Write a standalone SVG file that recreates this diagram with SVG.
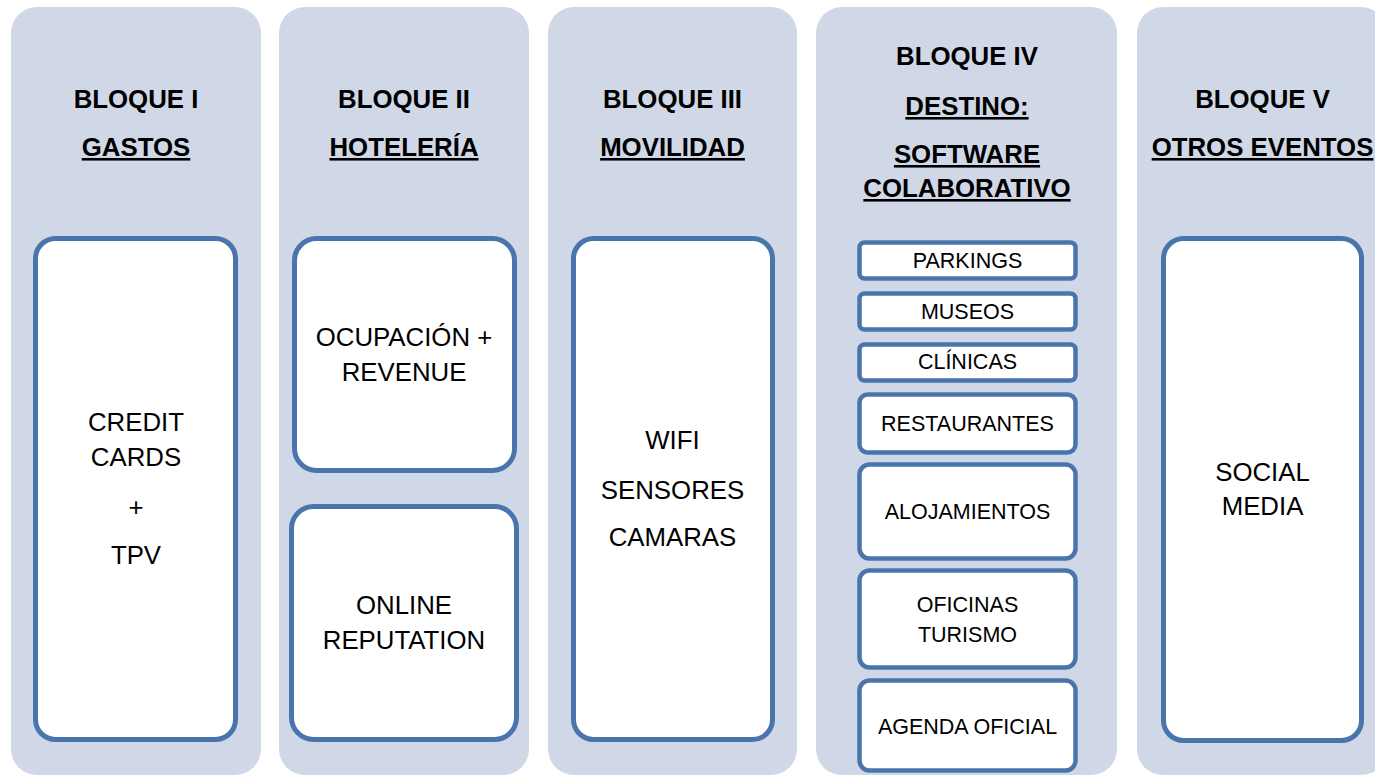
<svg xmlns="http://www.w3.org/2000/svg" width="1375" height="775" viewBox="0 0 1375 775">
<style>
.col{fill:#D0D8E8;}
.box{fill:#FFFFFF;stroke:#4A75AC;stroke-width:5;}
.sbox{fill:#FFFFFF;stroke:#4A75AC;stroke-width:4.5;}
.h{font-family:"Liberation Sans",Arial,sans-serif;font-weight:bold;font-size:25.8px;fill:#000;text-anchor:middle;}
.u{text-decoration:underline;}
.t{font-family:"Liberation Sans",Arial,sans-serif;font-size:25.8px;fill:#000;text-anchor:middle;}
.s{font-family:"Liberation Sans",Arial,sans-serif;font-size:21.5px;fill:#000;text-anchor:middle;}
</style>
<rect width="1375" height="775" fill="#FFFFFF"/>
<g id="bloque1">
<rect class="col" x="11" y="7" width="250" height="768" rx="26"/>
<text class="h" x="136" y="108">BLOQUE I</text>
<text class="h u" x="136" y="156">GASTOS</text>
<g id="gastos-box">
<rect class="box" x="35.5" y="238.5" width="200" height="501" rx="20"/>
<text class="t" x="136" y="431">CREDIT</text>
<text class="t" x="136" y="466">CARDS</text>
<text class="t" x="136" y="516">+</text>
<text class="t" x="136" y="564">TPV</text>
</g>
</g>
<g id="bloque2">
<rect class="col" x="279" y="7" width="250" height="768" rx="26"/>
<text class="h" x="404" y="108">BLOQUE II</text>
<text class="h u" x="404" y="156">HOTELERÍA</text>
<g id="ocupacion">
<rect class="box" x="294.5" y="238.5" width="220" height="232" rx="22"/>
<text class="t" x="404" y="346">OCUPACIÓN +</text>
<text class="t" x="404" y="381">REVENUE</text>
</g>
<g id="reputation">
<rect class="box" x="291.5" y="506.5" width="225" height="233" rx="22"/>
<text class="t" x="404" y="614">ONLINE</text>
<text class="t" x="404" y="649">REPUTATION</text>
</g>
</g>
<g id="bloque3">
<rect class="col" x="548" y="7" width="249" height="768" rx="26"/>
<text class="h" x="672.5" y="108">BLOQUE III</text>
<text class="h u" x="672.5" y="156">MOVILIDAD</text>
<g id="movilidad-box">
<rect class="box" x="573.5" y="238.5" width="199" height="501" rx="20"/>
<text class="t" x="672.5" y="449">WIFI</text>
<text class="t" x="672.5" y="499">SENSORES</text>
<text class="t" x="672.5" y="546">CAMARAS</text>
</g>
</g>
<g id="bloque4">
<rect class="col" x="816" y="7" width="301" height="768" rx="26"/>
<text class="h" x="967" y="65">BLOQUE IV</text>
<text class="h u" x="967" y="115">DESTINO:</text>
<text class="h u" x="967" y="163">SOFTWARE</text>
<text class="h u" x="967" y="197">COLABORATIVO</text>
<g id="parkings">
<rect class="sbox" x="859.5" y="242.5" width="216" height="36" rx="5"/>
<text class="s" x="967.5" y="268">PARKINGS</text>
</g>
<g id="museos">
<rect class="sbox" x="859.5" y="293.5" width="216" height="36" rx="5"/>
<text class="s" x="967.5" y="319">MUSEOS</text>
</g>
<g id="clinicas">
<rect class="sbox" x="859.5" y="344.5" width="216" height="36" rx="5"/>
<text class="s" x="967.5" y="369">CLÍNICAS</text>
</g>
<g id="restaurantes">
<rect class="sbox" x="859.5" y="394.5" width="216" height="58" rx="8"/>
<text class="s" x="967.5" y="431">RESTAURANTES</text>
</g>
<g id="alojamientos">
<rect class="sbox" x="859.5" y="464.5" width="216" height="94" rx="10"/>
<text class="s" x="967.5" y="519">ALOJAMIENTOS</text>
</g>
<g id="oficinas">
<rect class="sbox" x="859.5" y="570.5" width="216" height="97" rx="10"/>
<text class="s" x="967.5" y="612">OFICINAS</text>
<text class="s" x="967.5" y="642">TURISMO</text>
</g>
<g id="agenda">
<rect class="sbox" x="859.5" y="680.5" width="216" height="90" rx="10"/>
<text class="s" x="967.5" y="734">AGENDA OFICIAL</text>
</g>
</g>
<g id="bloque5">
<rect class="col" x="1137" y="7" width="250" height="768" rx="26"/>
<text class="h" x="1262.5" y="108">BLOQUE V</text>
<text class="h u" x="1262.5" y="156">OTROS EVENTOS</text>
<g id="social">
<rect class="box" x="1163.5" y="238.5" width="198" height="502" rx="20"/>
<text class="t" x="1262.5" y="481">SOCIAL</text>
<text class="t" x="1262.5" y="515">MEDIA</text>
</g>
</g>
<g id="connectors"></g>
</svg>
